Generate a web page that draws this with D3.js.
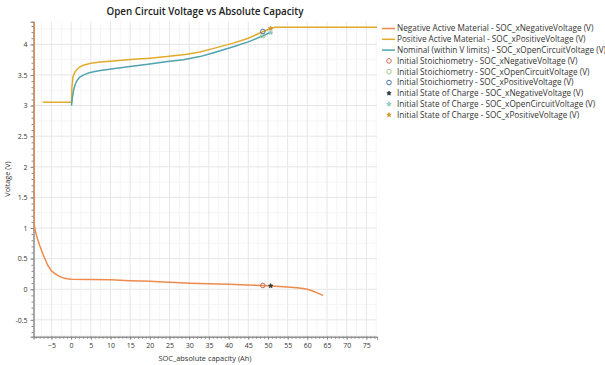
<!DOCTYPE html>
<html><head><meta charset="utf-8">
<script src="https://cdn.jsdelivr.net/npm/d3@7"></script>
<style>body{margin:0;background:#fff}svg{display:block}</style>
</head><body>
<svg id="c" width="605" height="365"></svg>
<script>
const title = "Open Circuit Voltage vs Absolute Capacity";
const xLabel = "SOC_absolute capacity (Ah)";
const yLabel = "Voltage (V)";
const xTicks = [-5,0,5,10,15,20,25,30,35,40,45,50,55,60,65,70,75];
const yTicks = [-0.5,0,0.5,1,1.5,2,2.5,3,3.5,4];

// Negative Active Material [capacity, voltage]
const negCap = [-9.38,-9.36,-9.3,-8.8,-8,-7,-6,-5,-4,-3,-2,-1,0,5,10,15,20,25,30,35,40,45,48.7,50.7,53,55,58,60,61,62.5,64];
const negV   = [4.6,1.06,1.02,0.88,0.72,0.55,0.40,0.30,0.25,0.21,0.185,0.172,0.165,0.16,0.155,0.14,0.13,0.115,0.10,0.09,0.08,0.07,0.062,0.055,0.045,0.035,0.02,0.0,-0.02,-0.06,-0.1];
// Positive Active Material
const posCap = [-7.2,0.1,0.2,0.5,1,1.5,2.2,3.1,5,7.4,10,15.8,20,24.3,29.4,32.7,36,41.2,45,48.8,50.7,51.8,77.7];
const posV   = [3.055,3.055,3.3,3.48,3.55,3.59,3.63,3.66,3.69,3.71,3.725,3.755,3.775,3.80,3.84,3.875,3.93,4.02,4.10,4.21,4.26,4.28,4.28];
// Nominal (within V limits) OCV
const ocvCap = [0.1,0.3,0.6,1.0,1.5,2.3,3.5,4.8,7,11.6,15,20,24,28.5,32.7,36,41.2,45,48.8,50.7];
const ocvV   = [3.0,3.12,3.24,3.34,3.41,3.47,3.51,3.54,3.57,3.61,3.64,3.68,3.715,3.75,3.80,3.86,3.96,4.04,4.14,4.20];

// Markers
const stoichCap = 48.7;
const stoichV = {neg:0.062, ocv:4.14, pos:4.21};
const socCap = 50.7;
const socV = {neg:0.055, ocv:4.19, pos:4.26};

const legendLabels = [
 "Negative Active Material - SOC_xNegativeVoltage (V)",
 "Positive Active Material - SOC_xPositiveVoltage (V)",
 "Nominal (within V limits) - SOC_xOpenCircuitVoltage (V)",
 "Initial Stoichiometry - SOC_xNegativeVoltage (V)",
 "Initial Stoichiometry - SOC_xOpenCircuitVoltage (V)",
 "Initial Stoichiometry - SOC_xPositiveVoltage (V)",
 "Initial State of Charge - SOC_xNegativeVoltage (V)",
 "Initial State of Charge - SOC_xOpenCircuitVoltage (V)",
 "Initial State of Charge - SOC_xPositiveVoltage (V)"
];
const legendTypes = ["line","line","line","circle","circle","circle","star","star","star"];
const colors = ["#ee8a4c","#e2aa2a","#4fa3ae","#cf6a58","#a9c98f","#4a74aa","#2f3438","#86c6bf","#c9952f"];

const FONT = "'Open Sans', 'Noto Sans', sans-serif";
const svg = d3.select("#c");
const L=33.5, R=377, T=21.7, B=336.7;
const x = d3.scaleLinear().domain([-9.55,77.7]).range([L,R]);
const y = d3.scaleLinear().domain([-0.775,4.37]).range([B,T]);

// grid
const g = svg.append("g");
g.selectAll(".vmin").data(d3.range(-7.5,78,5)).join("line")
 .attr("x1",d=>x(d)).attr("x2",d=>x(d)).attr("y1",T).attr("y2",B).attr("stroke","#f5f5f5");
g.selectAll(".hmin").data(d3.range(-0.75,4.4,0.5)).join("line")
 .attr("y1",d=>y(d)).attr("y2",d=>y(d)).attr("x1",L).attr("x2",R).attr("stroke","#f5f5f5");
g.selectAll(".vmaj").data(xTicks).join("line")
 .attr("x1",d=>x(d)).attr("x2",d=>x(d)).attr("y1",T).attr("y2",B).attr("stroke","#e6e6e6");
g.selectAll(".hmaj").data(yTicks).join("line")
 .attr("y1",d=>y(d)).attr("y2",d=>y(d)).attr("x1",L).attr("x2",R).attr("stroke","#e6e6e6");

// axes
const xAxis = d3.axisBottom(x).tickValues(xTicks).tickSize(3).tickFormat(d3.format("d"));
const xMinor = d3.axisBottom(x).tickValues(d3.range(-9,78,1)).tickSize(2).tickFormat("");
const yAxis = d3.axisLeft(y).tickValues(yTicks).tickSize(3).tickFormat(d=>String(d));
const yMinor = d3.axisLeft(y).tickValues(d3.range(-7,44,1).map(v=>v/10)).tickSize(2).tickFormat("");
function styleAxis(sel){
  sel.select(".domain").attr("stroke","#8a8a8a");
  sel.selectAll(".tick line").attr("stroke","#8a8a8a");
  sel.selectAll("text").attr("fill","#333").style("font-family",FONT).style("font-size","7px");
}
svg.append("g").attr("transform",`translate(0,${B})`).call(xMinor).call(styleAxis).selectAll("text").remove();
svg.append("g").attr("transform",`translate(0,${B})`).call(xAxis).call(styleAxis);
svg.append("g").attr("transform",`translate(${L},0)`).call(yMinor).call(styleAxis).selectAll("text").remove();
svg.append("g").attr("transform",`translate(${L},0)`).call(yAxis).call(styleAxis);

// clip
svg.append("clipPath").attr("id","clip").append("rect").attr("x",L).attr("y",T).attr("width",R-L).attr("height",B-T);
const plot = svg.append("g").attr("clip-path","url(#clip)");
const line = d3.line().x(d=>x(d[0])).y(d=>y(d[1]));
const series = [[negCap,negV,colors[0]],[posCap,posV,colors[1]],[ocvCap,ocvV,colors[2]]];
series.forEach(([c,v,col])=>{
  plot.append("path").datum(c.map((d,i)=>[d,v[i]])).attr("d",line)
   .attr("fill","none").attr("stroke",col).attr("stroke-width",1.5).attr("stroke-linejoin","round");
});

// markers
const circ = [[stoichV.neg,colors[3]],[stoichV.ocv,colors[4]],[stoichV.pos,colors[5]]];
circ.forEach(([v,col])=>{
  plot.append("circle").attr("cx",x(stoichCap)).attr("cy",y(v)).attr("r",2.3)
   .attr("fill","none").attr("stroke",col).attr("stroke-width",1);
});
const stars = [[socV.neg,colors[6]],[socV.ocv,colors[7]],[socV.pos,colors[8]]];
function drawStar(sel,cx,cy,col){
  sel.append("path").attr("transform",`translate(${cx},${cy})`)
   .attr("d",d3.symbol().type(d3.symbolStar).size(6)())
   .attr("fill",col).attr("stroke",col).attr("stroke-width",0.8);
}
stars.forEach(([v,col])=>drawStar(plot,x(socCap),y(v),col));

// title and labels
svg.append("text").attr("x",205).attr("y",15).attr("text-anchor","middle")
 .style("font-family",FONT).style("font-size","9.8px").style("font-weight","600").attr("fill","#222").text(title);
svg.append("text").attr("x",205).attr("y",360.5).attr("text-anchor","middle")
 .style("font-family",FONT).style("font-size","7.4px").attr("fill","#333").text(xLabel);
svg.append("text").attr("transform","translate(10,179) rotate(-90)").attr("text-anchor","middle")
 .style("font-family",FONT).style("font-size","7.2px").attr("fill","#333").text(yLabel);

// legend
const lg = svg.append("g");
legendLabels.forEach((lab,i)=>{
  const yy = 28.5 + i*10.8;
  const col = colors[i];
  if(legendTypes[i]==="line"){
    lg.append("line").attr("x1",382).attr("x2",395).attr("y1",yy).attr("y2",yy).attr("stroke",col).attr("stroke-width",1.5);
  } else if(legendTypes[i]==="circle"){
    lg.append("circle").attr("cx",389).attr("cy",yy).attr("r",2.3).attr("fill","none").attr("stroke",col).attr("stroke-width",1);
  } else {
    drawStar(lg,389,yy,col);
  }
  lg.append("text").attr("x",397).attr("y",yy).attr("dy","0.35em")
   .style("font-family",FONT).style("font-size","8.2px").attr("fill","#333").text(lab);
});
</script>
</body></html>
